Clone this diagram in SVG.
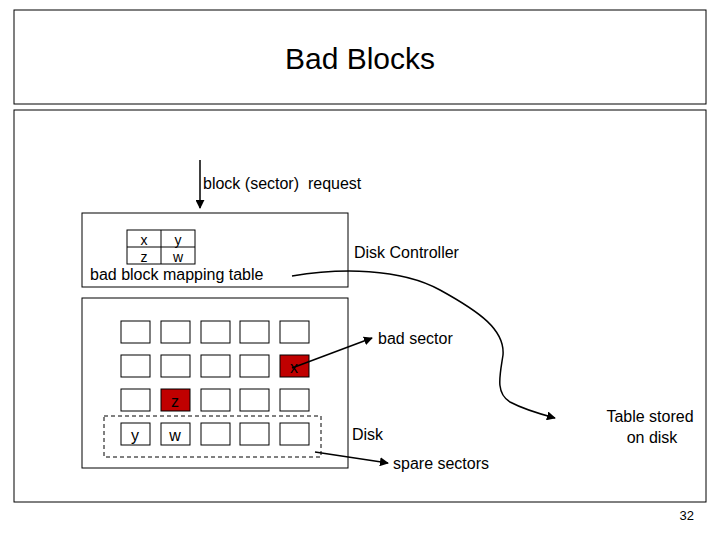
<svg xmlns="http://www.w3.org/2000/svg" width="720" height="540" viewBox="0 0 720 540">
<style>
text{font-family:"Liberation Sans",Arial,sans-serif;fill:#000}
.b{fill:#fff;stroke:#000;stroke-width:1}
.bad{fill:#c00000;stroke:#000;stroke-width:1}
.c{fill:none;stroke:#000;stroke-width:1.5}
</style>
<defs><marker id="a" viewBox="0 0 10 10" refX="9" refY="5" markerWidth="6" markerHeight="6" orient="auto"><path d="M0,0L10,5L0,10z" fill="#000"/></marker></defs>
<rect width="720" height="540" fill="#fff"/>
<g id="title"><rect x="14" y="10" width="692" height="94" fill="#fff" stroke="#000"/><text x="360" y="69" font-size="30" text-anchor="middle">Bad Blocks</text></g>
<g id="frame"><rect x="14" y="110" width="692" height="392" fill="#fff" stroke="#000"/></g>
<g id="controller"><rect class="b" x="82" y="213" width="266" height="74"/>
<rect class="b" x="127" y="230" width="68" height="34"/><line x1="161" y1="230" x2="161" y2="264" stroke="#000"/><line x1="127" y1="247" x2="195" y2="247" stroke="#000"/>
<text x="144" y="245" font-size="14" text-anchor="middle">x</text><text x="178" y="245" font-size="14" text-anchor="middle">y</text>
<text x="144" y="262" font-size="14" text-anchor="middle">z</text><text x="178" y="262" font-size="14" text-anchor="middle">w</text>
<text x="90" y="280" font-size="16">bad block mapping table</text>
<text x="354" y="258" font-size="16">Disk Controller</text></g>
<g id="disk"><rect class="b" x="82" y="298" width="266" height="170"/>
<g id="r1"><rect class="b" x="121" y="321" width="29" height="22"/><rect class="b" x="161" y="321" width="29" height="22"/><rect class="b" x="201" y="321" width="29" height="22"/><rect class="b" x="240" y="321" width="29" height="22"/><rect class="b" x="280" y="321" width="29" height="22"/></g>
<g id="r2"><rect class="b" x="121" y="355" width="29" height="22"/><rect class="b" x="161" y="355" width="29" height="22"/><rect class="b" x="201" y="355" width="29" height="22"/><rect class="b" x="240" y="355" width="29" height="22"/><rect class="bad" x="280" y="355" width="29" height="22"/><text x="294" y="373" font-size="16" text-anchor="middle">x</text></g>
<g id="r3"><rect class="b" x="121" y="389" width="29" height="22"/><rect class="bad" x="161" y="389" width="29" height="22"/><text x="175" y="407" font-size="16" text-anchor="middle">z</text><rect class="b" x="201" y="389" width="29" height="22"/><rect class="b" x="240" y="389" width="29" height="22"/><rect class="b" x="280" y="389" width="29" height="22"/></g>
<g id="r4"><rect class="b" x="121" y="423" width="29" height="22"/><text x="135" y="441" font-size="16" text-anchor="middle">y</text><rect class="b" x="161" y="423" width="29" height="22"/><text x="175" y="441" font-size="16" text-anchor="middle">w</text><rect class="b" x="201" y="423" width="29" height="22"/><rect class="b" x="240" y="423" width="29" height="22"/><rect class="b" x="280" y="423" width="29" height="22"/></g>
<rect x="104" y="416" width="217" height="41" fill="none" stroke="#000" stroke-dasharray="4,3"/>
<text x="352" y="440" font-size="16">Disk</text></g>
<g id="labels"><text x="203" y="189" font-size="16" xml:space="preserve">block (sector)  request</text>
<text x="378" y="344" font-size="16">bad sector</text>
<text x="393" y="469" font-size="16">spare sectors</text>
<text x="650" y="422" font-size="16" text-anchor="middle">Table stored</text><text x="652" y="443" font-size="16" text-anchor="middle">on disk</text>
<text x="694" y="520" font-size="13" text-anchor="end">32</text></g>
<g id="connectors">
<line class="c" x1="200" y1="160" x2="200" y2="208" marker-end="url(#a)"/>
<path class="c" d="M292,276 C340,268 400,268 440,290 C480,312 505,330 503,355 C500,375 495,393 510,402 C525,410 540,414 555,418" marker-end="url(#a)"/>
<line class="c" x1="292" y1="368" x2="372" y2="338" marker-end="url(#a)"/>
<line class="c" x1="315" y1="452" x2="388" y2="463" marker-end="url(#a)"/>
</g>
</svg>
